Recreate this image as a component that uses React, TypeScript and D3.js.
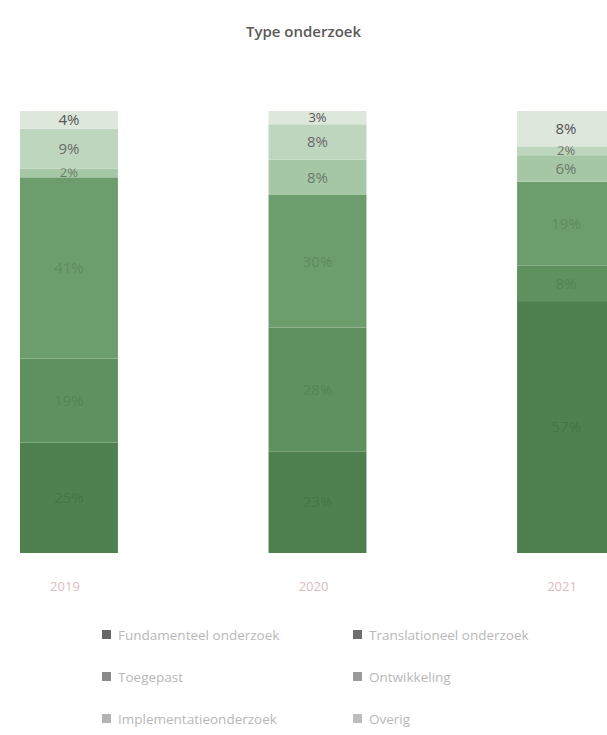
import { useMemo } from "react"
import * as d3 from "d3"

const categories = ["2019", "2020", "2021"]
const seriesNames = [
  "Fundamenteel onderzoek",
  "Translationeel onderzoek",
  "Toegepast",
  "Ontwikkeling",
  "Implementatieonderzoek",
  "Overig",
]
// values per series (bottom to top), one entry per category
const fundamenteel = [25, 23, 57]
const translationeel = [19, 28, 8]
const toegepast = [41, 30, 19]
const ontwikkeling = [2, 8, 6]
const implementatie = [9, 8, 2]
const overig = [4, 3, 8]

const colors = ["#4f8150", "#5f915f", "#6e9d6d", "#a6c7a6", "#bfd6be", "#dde7dc"]
const labelColors = ["#3f6d40", "#4c7d4c", "#587f58", "#6a7a6a", "#6a6a6a", "#555"]
const legendMarks = ["#666", "#6e6e6e", "#8a8a8a", "#9a9a9a", "#b3b3b3", "#bdbdbd"]

const W = 607, H = 735

export default function App() {
  const rows = useMemo(() => categories.map((c, i) => {
    const r: Record<string, number | string> = { cat: c }
    const vals = [fundamenteel, translationeel, toegepast, ontwikkeling, implementatie, overig]
    seriesNames.forEach((s, k) => { r[s] = vals[k][i] })
    return r
  }), [])

  const stack = d3.stack<Record<string, number | string>>().keys(seriesNames)(rows as any)
  const x = d3.scaleBand().domain(categories).range([20, 615]).paddingInner(0.606).paddingOuter(0)
  const y = d3.scaleLinear().domain([0, 100]).range([553, 111])
  const font = "'Open Sans', 'DejaVu Sans', sans-serif"

  return (
    <svg width={W} height={H} style={{ position: "absolute", left: 0, top: 0, background: "#fff" }} fontFamily={font}>
      <text x={W / 2} y={37} textAnchor="middle" fontSize={15} fontWeight={600} fill="#5a5a5a">Type onderzoek</text>
      {stack.map((layer, k) => (
        <g key={layer.key}>
          {layer.map((d, i) => {
            const cat = categories[i]
            const y0 = y(d[1]), y1 = y(d[0])
            const small = d[1] - d[0] <= 3
            return (
              <g key={cat}>
                <rect x={x(cat)} y={y0} width={x.bandwidth()} height={y1 - y0} fill={colors[k]} />
                <text x={x(cat)! + x.bandwidth() / 2} y={(y0 + y1) / 2} dy="0.35em" textAnchor="middle"
                  fontSize={small ? 13 : 15} fill={labelColors[k]} opacity={k < 3 ? 0.6 : 1}>
                  {d[1] - d[0]}%
                </text>
              </g>
            )
          })}
        </g>
      ))}
      {categories.map(c => (
        <text key={c} x={x(c)! + x.bandwidth() / 2 - 4} y={591} textAnchor="middle" fontSize={13} fill="#dcbcbc">{c}</text>
      ))}
      {seriesNames.map((s, k) => {
        const col = k % 2, row = Math.floor(k / 2)
        const lx = col === 0 ? 102 : 353
        const ly = 635 + row * 42
        return (
          <g key={s}>
            <rect x={lx} y={ly - 5} width={9} height={9} fill={legendMarks[k]} />
            <text x={lx + 16} y={ly} dy="0.35em" fontSize={13.5} fill="#b8b8b8">{s}</text>
          </g>
        )
      })}
    </svg>
  )
}
